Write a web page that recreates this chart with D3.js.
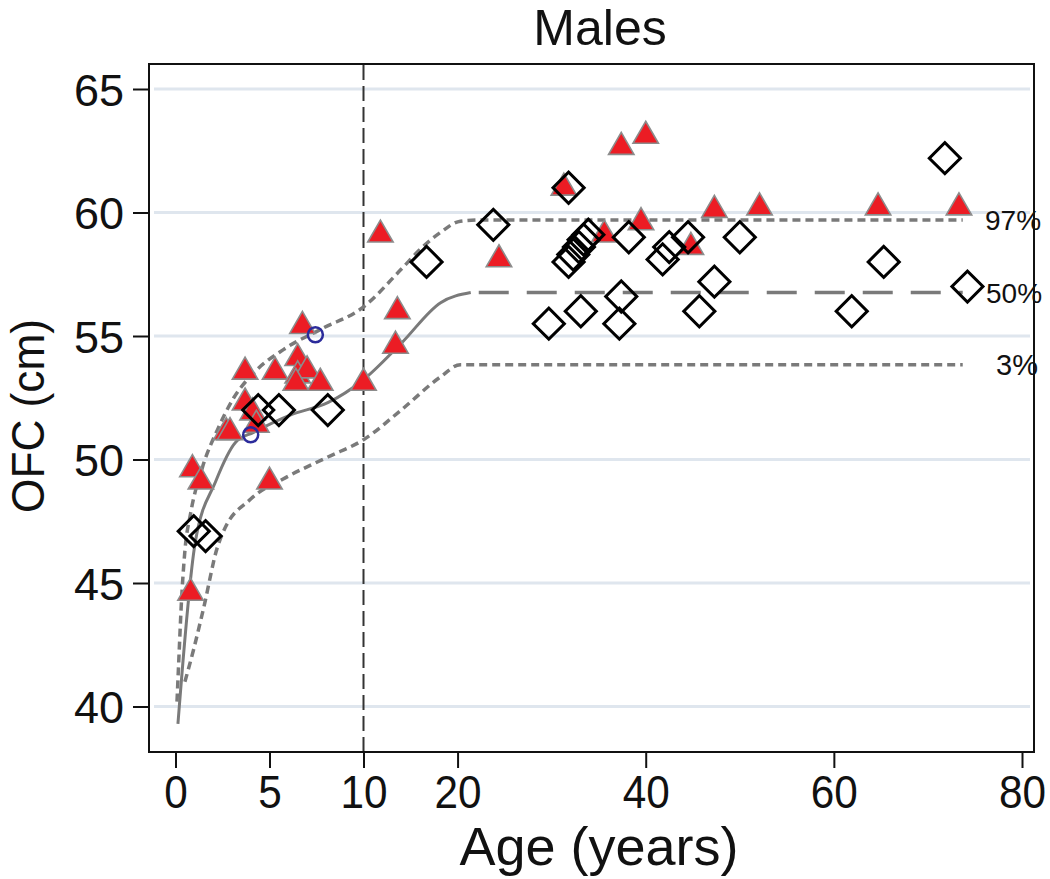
<!DOCTYPE html>
<html><head><meta charset="utf-8">
<script src="https://cdn.jsdelivr.net/npm/d3@7"></script>
<style>body{margin:0;background:#fff}svg{display:block}text{font-family:"Liberation Sans",Arial,sans-serif;fill:#111}</style>
</head><body><svg id="c" width="1050" height="879"></svg>
<script>
const title = "Males";
const xLabel = "Age (years)";
const yLabel = "OFC (cm)";
const xTicks = [0, 5, 10, 20, 40, 60, 80];
const yTicks = [40, 45, 50, 55, 60, 65];

const p97Age = [0.08, 0.2, 0.3, 0.5, 0.8, 1.44, 2.23, 3.1, 4.15, 5.74, 7.8, 9.95, 14, 16, 18.2, 20.3, 22.5, 73.7];
const p97Val = [40.2, 42.3, 44.0, 46.3, 47.8, 49.7, 51.2, 52.5, 53.5, 54.45, 55.3, 56.15, 57.7, 58.5, 59.2, 59.65, 59.7, 59.7];
const p50Age = [0.13, 1.04, 2.13, 3.2, 4.15, 6.1, 8.1, 9.95, 14, 18.2, 21.4, 73.7];
const p50Val = [39.3, 46.6, 49.1, 50.7, 51.1, 51.8, 52.3, 53.2, 54.7, 56.35, 56.76, 56.76];
const p50SolidEnd = 21.4;
const p3Age = [0.5, 0.96, 1.5, 2.23, 2.5, 4.0, 5.7, 8.1, 10, 14, 18.2, 20.3, 22.5, 73.7];
const p3Val = [41.0, 42.3, 44.0, 46.45, 47.0, 48.4, 49.2, 50.1, 50.8, 52.0, 53.35, 53.84, 53.84, 53.84];
const pctLabels = ["97%", "50%", "3%"];
const pctLabelVal = [59.7, 56.76, 53.84];

const triAge = [0.8, 0.9, 1.35, 2.7, 2.9, 3.7, 3.7, 4.1, 4.3, 5.0, 5.3, 6.5, 6.5, 7.0, 6.4, 6.75, 7.7, 10.0,
                11.8, 13.6, 13.4, 24.4, 31.3, 35.6, 37.4, 40.0, 39.5, 44.8, 47.3, 52.1, 64.7, 73.3];
const triOfc = [44.6, 49.6, 49.1, 51.1, 51.1, 53.55, 52.3, 51.9, 51.4, 49.1, 53.55, 54.1, 53.4, 53.6, 53.1, 55.4, 53.1, 53.1,
                59.1, 56.0, 54.6, 58.1, 61.0, 59.1, 62.65, 63.1, 59.6, 58.6, 60.1, 60.2, 60.2, 60.2];
const diaAge = [0.97, 1.6, 4.4, 5.5, 8.1, 16.7, 23.8, 31.8, 31.8, 32.3, 32.9, 33.4, 33.9, 38.2, 42.5, 41.8, 44.5, 50.0,
                37.4, 29.7, 33.1, 37.2, 47.3, 45.7, 71.8, 65.3, 61.9, 74.2];
const diaOfc = [47.1, 46.9, 52.0, 52.0, 52.0, 58.0, 59.5, 61.0, 58.0, 58.3, 58.6, 58.9, 59.1, 59.0, 58.6, 58.1, 59.0, 59.0,
                56.6, 55.5, 56.0, 55.5, 57.2, 56.0, 62.2, 58.0, 56.0, 57.0];
const circAge = [7.44, 4.0];
const circOfc = [55.05, 51.0];

const svg = d3.select("#c");
const fL = 149, fR = 1034, fT = 64, fB = 752;
const x = d3.scaleLinear().domain([0, 10, 80]).range([175.5, 363.5, 1022]);
const y = d3.scaleLinear().domain([40, 65]).range([706.5, 89]);

// gridlines
svg.append("g").selectAll("line").data(yTicks).join("line")
  .attr("x1", fL + 5).attr("x2", fR - 4)
  .attr("y1", d => y(d)).attr("y2", d => y(d))
  .attr("stroke", "#dfe6ee").attr("stroke-width", 3);

// axes
const yAxis = svg.append("g").attr("transform", `translate(${fL},0)`)
  .call(d3.axisLeft(y).tickValues(yTicks).tickSize(16).tickPadding(10));
yAxis.select(".domain").remove();
yAxis.selectAll("line").attr("stroke", "#111").attr("stroke-width", 2);
yAxis.selectAll("text").attr("font-size", 45).attr("dy", 16).attr("x", -25)
  .style("font-family", '"Liberation Sans",Arial,sans-serif').attr("fill", "#111");

const xAxis = svg.append("g").attr("transform", `translate(0,${fB})`)
  .call(d3.axisBottom(x).tickValues(xTicks).tickSize(16).tickFormat(d3.format("d")));
xAxis.select(".domain").remove();
xAxis.selectAll("line").attr("stroke", "#111").attr("stroke-width", 2);
xAxis.selectAll("text").attr("font-size", 47).attr("y", 56).attr("dy", 0)
  .attr("transform", "scale(0.9,1)")
  .style("font-family", '"Liberation Sans",Arial,sans-serif').attr("fill", "#111");

// frame
svg.append("rect").attr("x", fL).attr("y", fT).attr("width", fR - fL).attr("height", fB - fT)
  .attr("fill", "none").attr("stroke", "#111").attr("stroke-width", 2);

// vertical reference at 10 years
svg.append("line").attr("x1", x(10)).attr("x2", x(10)).attr("y1", fT + 1).attr("y2", fB - 1)
  .attr("stroke", "#333").attr("stroke-width", 2).attr("stroke-dasharray", "15,6");

// percentile curves
const line = d3.line().x(d => x(d[0])).y(d => y(d[1])).curve(d3.curveMonotoneX);
const p97 = p97Age.map((a, i) => [a, p97Val[i]]);
const p50 = p50Age.map((a, i) => [a, p50Val[i]]);
const p3 = p3Age.map((a, i) => [a, p3Val[i]]);
const curveColor = "#7a7a7a";
svg.append("path").attr("d", line(p97)).attr("fill", "none").attr("stroke", curveColor)
  .attr("stroke-width", 3.5).attr("stroke-dasharray", "8,5");
svg.append("path").attr("d", line(p3)).attr("fill", "none").attr("stroke", curveColor)
  .attr("stroke-width", 3.5).attr("stroke-dasharray", "8,5");
svg.append("path").attr("d", line(p50.filter(d => d[0] <= p50SolidEnd))).attr("fill", "none")
  .attr("stroke", curveColor).attr("stroke-width", 3);
svg.append("path").attr("d", line(p50.filter(d => d[0] >= p50SolidEnd))).attr("fill", "none")
  .attr("stroke", curveColor).attr("stroke-width", 3.5).attr("stroke-dasharray", "30,18")
  .attr("stroke-dashoffset", -8);

// percentile labels
const labX = [985, 986, 996];
const labSize = [28, 28, 29];
svg.append("g").selectAll("text").data(pctLabels).join("text")
  .attr("x", (d, i) => labX[i]).attr("y", (d, i) => y(pctLabelVal[i]) + 10)
  .attr("font-size", (d, i) => labSize[i]).attr("fill", "#222").text(d => d);

// markers
const tri = d3.symbol().type(d3.symbolTriangle).size(280);
svg.append("g").selectAll("path").data(triAge.map((a, i) => [a, triOfc[i]])).join("path")
  .attr("d", tri).attr("transform", d => `translate(${x(d[0])},${y(d[1])})`)
  .attr("fill", "#ec1c24").attr("stroke", "#8c8c8c").attr("stroke-width", 1.6);

const sq = d3.symbol().type(d3.symbolSquare).size(484);
svg.append("g").selectAll("path").data(diaAge.map((a, i) => [a, diaOfc[i]])).join("path")
  .attr("d", sq).attr("transform", d => `translate(${x(d[0])},${y(d[1])}) rotate(45)`)
  .attr("fill", "none").attr("stroke", "#000").attr("stroke-width", 3);

svg.append("g").selectAll("circle").data(circAge.map((a, i) => [a, circOfc[i]])).join("circle")
  .attr("cx", d => x(d[0])).attr("cy", d => y(d[1])).attr("r", 7.5)
  .attr("fill", "none").attr("stroke", "#2b2b9b").attr("stroke-width", 2.5);

// titles
svg.append("text").attr("x", 600).attr("y", 45).attr("text-anchor", "middle")
  .attr("font-size", 50).text(title);
svg.append("text").attr("x", 599).attr("y", 865).attr("text-anchor", "middle")
  .attr("font-size", 54).text(xLabel);
svg.append("text").attr("transform", "translate(44,416) rotate(-90) scale(0.94,1)").attr("text-anchor", "middle")
  .attr("font-size", 47).text(yLabel);
</script></body></html>
